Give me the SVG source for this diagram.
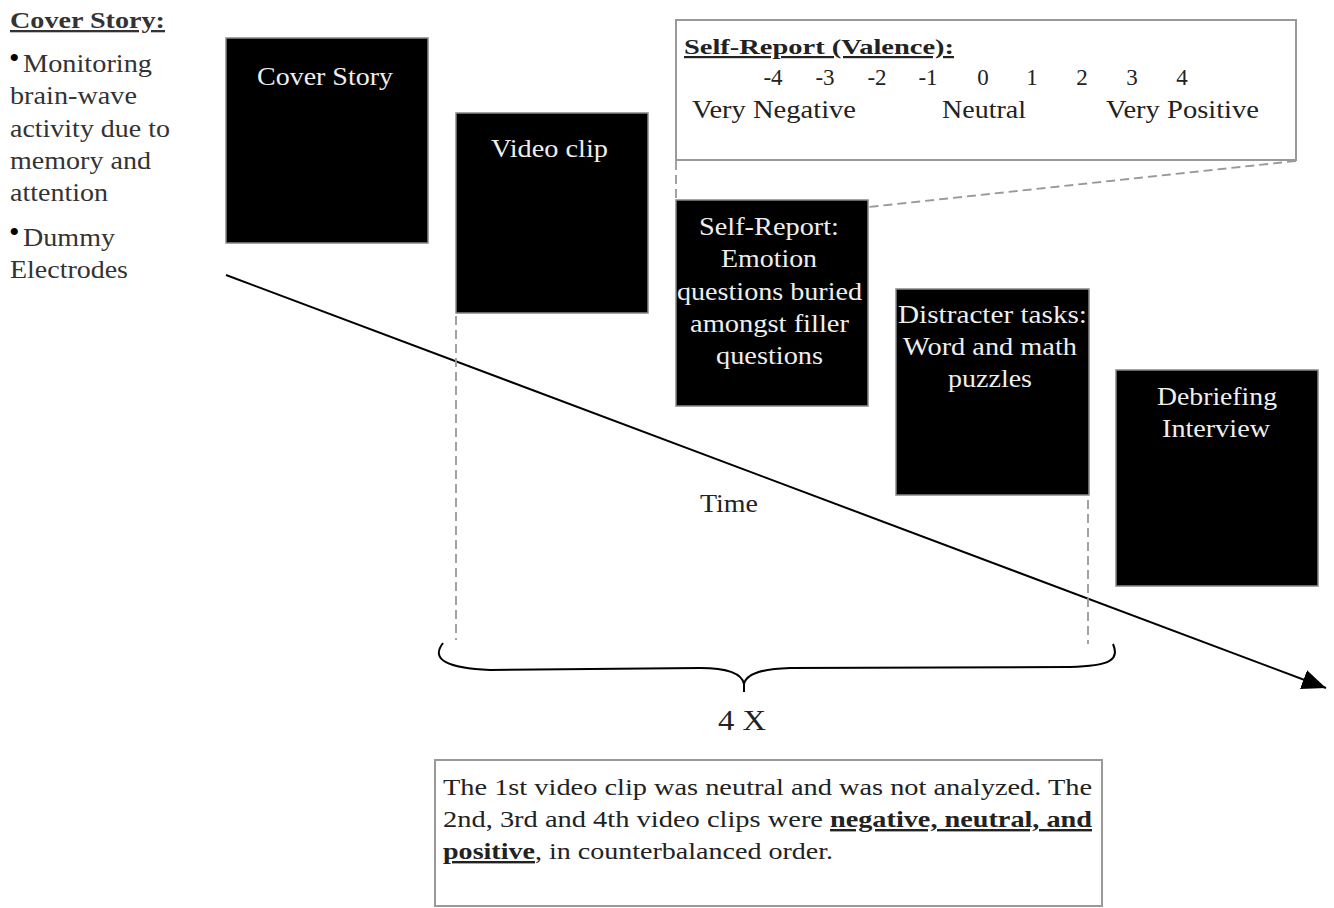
<svg xmlns="http://www.w3.org/2000/svg" width="1334" height="908" viewBox="0 0 1334 908">
<defs>
<style>
text{font-family:"Liberation Serif","Times New Roman",serif;}
.blk{fill:#000;stroke:#888;stroke-width:1.5;}
.wt{fill:#eee;font-size:25px;}
.lt{fill:#333;font-size:25px;}
.bl{fill:#000;font-size:30px;}
.dash{stroke:#999;stroke-width:1.8;stroke-dasharray:9,5;fill:none;}
.wbox{fill:#fff;stroke:#999;stroke-width:2;}
.dk{fill:#222;}
.bu{font-weight:bold;text-decoration:underline;}
</style>
<marker id="ah2" viewBox="0 0 24 20" refX="24" refY="10" markerWidth="24" markerHeight="20" orient="auto" markerUnits="userSpaceOnUse">
<path d="M0,0 L24,10 L0,20 Z" fill="#000"/>
</marker>
</defs>

<g id="cover-story-notes">
<text x="10" y="28" class="lt bu" style="font-size:23px;" textLength="155" lengthAdjust="spacingAndGlyphs">Cover Story:</text>
<text x="9" y="68" class="bl">•</text>
<text x="23" y="72" class="lt" textLength="129" lengthAdjust="spacingAndGlyphs">Monitoring</text>
<text x="10" y="104" class="lt" textLength="127" lengthAdjust="spacingAndGlyphs">brain-wave</text>
<text x="10" y="137" class="lt" textLength="160" lengthAdjust="spacingAndGlyphs">activity due to</text>
<text x="10" y="169" class="lt" textLength="141" lengthAdjust="spacingAndGlyphs">memory and</text>
<text x="10" y="201" class="lt" textLength="98" lengthAdjust="spacingAndGlyphs">attention</text>
<text x="9" y="242" class="bl">•</text>
<text x="23" y="246" class="lt" textLength="92" lengthAdjust="spacingAndGlyphs">Dummy</text>
<text x="10" y="278" class="lt" textLength="118" lengthAdjust="spacingAndGlyphs">Electrodes</text>
</g>

<g id="connectors">
<line x1="226" y1="275" x2="1326" y2="688" stroke="#000" stroke-width="2" marker-end="url(#ah2)"/>
<line x1="676" y1="161" x2="676" y2="200" class="dash"/>
<line x1="1296" y1="161" x2="869" y2="207" class="dash"/>
<line x1="456" y1="316" x2="456" y2="640" class="dash"/>
<line x1="1088" y1="500" x2="1088" y2="644" class="dash"/>
<path d="M443,643 C430,660 448,668 490,670 L700,668 C730,668 742,674 744,684 L744,692 M744,684 C746,674 760,669 790,668 L1070,667 C1110,666 1120,660 1113,644" fill="none" stroke="#000" stroke-width="2"/>
</g>

<g id="valence-box">
<rect x="676" y="20" width="620" height="140" class="wbox"/>
<text x="684" y="54" class="dk bu" style="font-size:22px;" textLength="270" lengthAdjust="spacingAndGlyphs">Self-Report (Valence):</text>
<g class="dk" style="font-size:23px;text-anchor:middle;">
<text x="773" y="85">-4</text>
<text x="825" y="85">-3</text>
<text x="877" y="85">-2</text>
<text x="928" y="85">-1</text>
<text x="983" y="85">0</text>
<text x="1032" y="85">1</text>
<text x="1082" y="85">2</text>
<text x="1132" y="85">3</text>
<text x="1182" y="85">4</text>
</g>
<text x="692" y="118" class="dk" style="font-size:25px;" textLength="164" lengthAdjust="spacingAndGlyphs">Very Negative</text>
<text x="942" y="118" class="dk" style="font-size:25px;" textLength="84" lengthAdjust="spacingAndGlyphs">Neutral</text>
<text x="1106" y="118" class="dk" style="font-size:25px;" textLength="153" lengthAdjust="spacingAndGlyphs">Very Positive</text>
</g>

<g id="node-cover-story">
<rect x="226" y="38" width="202" height="205" class="blk"/>
<text x="257" y="85" class="wt" textLength="136" lengthAdjust="spacingAndGlyphs">Cover Story</text>
</g>

<g id="node-video-clip">
<rect x="456" y="113" width="192" height="200" class="blk"/>
<text x="491" y="157" class="wt" textLength="117" lengthAdjust="spacingAndGlyphs">Video clip</text>
</g>

<g id="node-self-report">
<rect x="676" y="200" width="192" height="206" class="blk"/>
<text x="699" y="235" class="wt" textLength="140" lengthAdjust="spacingAndGlyphs">Self-Report:</text>
<text x="721" y="267" class="wt" textLength="96" lengthAdjust="spacingAndGlyphs">Emotion</text>
<text x="677" y="300" class="wt" textLength="185" lengthAdjust="spacingAndGlyphs">questions buried</text>
<text x="690" y="332" class="wt" textLength="159" lengthAdjust="spacingAndGlyphs">amongst filler</text>
<text x="716" y="364" class="wt" textLength="107" lengthAdjust="spacingAndGlyphs">questions</text>
</g>

<g id="node-distracter">
<rect x="896" y="289" width="193" height="206" class="blk"/>
<text x="898" y="323" class="wt" textLength="189" lengthAdjust="spacingAndGlyphs">Distracter tasks:</text>
<text x="903" y="355" class="wt" textLength="174" lengthAdjust="spacingAndGlyphs">Word and math</text>
<text x="948" y="387" class="wt" textLength="84" lengthAdjust="spacingAndGlyphs">puzzles</text>
</g>

<g id="node-debriefing">
<rect x="1116" y="370" width="202" height="216" class="blk"/>
<text x="1157" y="405" class="wt" textLength="120" lengthAdjust="spacingAndGlyphs">Debriefing</text>
<text x="1162" y="437" class="wt" textLength="108" lengthAdjust="spacingAndGlyphs">Interview</text>
</g>

<g id="label-time">
<text x="700" y="512" class="dk" style="font-size:25px;" textLength="58" lengthAdjust="spacingAndGlyphs">Time</text>
</g>

<g id="label-4x">
<text x="718" y="730" class="dk" style="font-size:30px;" textLength="48" lengthAdjust="spacingAndGlyphs">4 X</text>
</g>

<g id="note-box">
<rect x="435" y="760" width="667" height="146" class="wbox"/>
<text x="443" y="795" class="dk" style="font-size:24px;" textLength="649" lengthAdjust="spacingAndGlyphs">The 1st video clip was neutral and was not analyzed. The</text>
<text x="443" y="827" class="dk" style="font-size:24px;" textLength="380" lengthAdjust="spacingAndGlyphs">2nd, 3rd and 4th video clips were</text>
<text x="830" y="827" class="dk bu" style="font-size:24px;" textLength="262" lengthAdjust="spacingAndGlyphs">negative, neutral, and</text>
<text x="443" y="859" class="dk bu" style="font-size:24px;" textLength="92" lengthAdjust="spacingAndGlyphs">positive</text>
<text x="535" y="859" class="dk" style="font-size:24px;" textLength="298" lengthAdjust="spacingAndGlyphs">, in counterbalanced order.</text>
</g>
</svg>
